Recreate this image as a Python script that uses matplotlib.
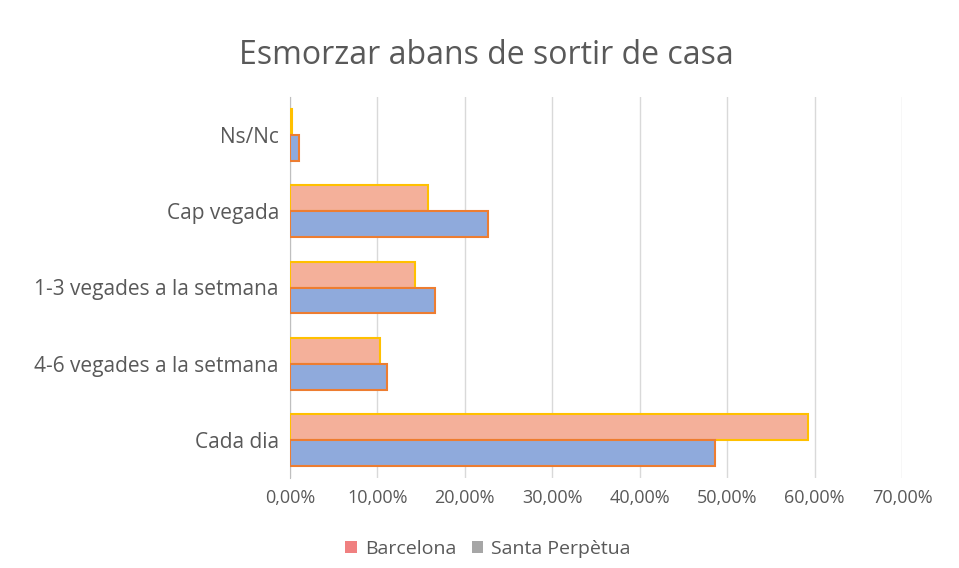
import matplotlib
matplotlib.use("Agg")
import matplotlib.pyplot as plt
from matplotlib.ticker import FuncFormatter, MultipleLocator
from matplotlib.patches import Patch
import numpy as np

categories = ["Ns/Nc", "Cap vegada", "1-3 vegades a la setmana",
              "4-6 vegades a la setmana", "Cada dia"]
barcelona = [0.2, 15.8, 14.3, 10.3, 59.2]
santa_perpetua = [1.0, 22.6, 16.6, 11.1, 48.6]
series_names = ["Barcelona", "Santa Perpètua"]

plt.rcParams["font.family"] = ["Open Sans", "DejaVu Sans"]

fig = plt.figure(figsize=(9.59, 5.68), dpi=100)
ax = fig.add_axes([290 / 959, 1 - 478 / 568, 612 / 959, 381 / 568])

y = np.arange(len(categories))
h = 0.34
ax.barh(y - h / 2, barcelona, height=h, color="#F4B09A",
        edgecolor="#FFC000", linewidth=1.5, zorder=3)
ax.barh(y + h / 2, santa_perpetua, height=h, color="#8FAADC",
        edgecolor="#ED7D31", linewidth=1.5, zorder=3)

ax.set_ylim(len(categories) - 0.5, -0.5)
ax.set_yticks(y)
ax.set_yticklabels(categories)
ax.set_xlim(0, 70)
ax.xaxis.set_major_locator(MultipleLocator(10))
ax.xaxis.set_major_formatter(FuncFormatter(lambda v, p: f"{v:.2f}%".replace(".", ",")))
ax.grid(axis="x", color="#D9D9D9", lw=1.0, zorder=0)
for s in ["top", "right", "bottom"]:
    ax.spines[s].set_visible(False)
ax.spines["left"].set_color("#BFBFBF")
ax.tick_params(axis="y", length=0, labelsize=15, colors="#595959", pad=8)
ax.tick_params(axis="x", length=0, labelsize=13, colors="#595959", pad=8)

fig.text(486 / 959, 1 - 55 / 568, "Esmorzar abans de sortir de casa",
         ha="center", va="center", fontsize=23, color="#595959")

handles = [Patch(facecolor="#F08080", edgecolor="none"),
           Patch(facecolor="#A6A6A6", edgecolor="none")]
fig.legend(handles, series_names, loc="center", bbox_to_anchor=(488 / 959, 1 - 549 / 568),
           ncol=2, frameon=False, fontsize=14, labelcolor="#595959",
           handlelength=0.6, handleheight=0.6, handletextpad=0.4, columnspacing=0.8)

fig.savefig("out.png", dpi=100, facecolor="white")
